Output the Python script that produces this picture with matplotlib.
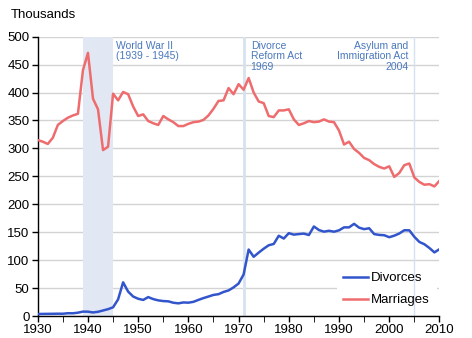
import matplotlib.pyplot as plt
from matplotlib.patches import Rectangle

plt.rcParams["font.family"] = ["Liberation Sans", "DejaVu Sans"]

years = list(range(1930, 2011))

# Marriages, England and Wales (thousands)
marriages = [
    315, 312, 308, 319, 342, 349, 355, 359, 362, 440,
    471, 389, 370, 297, 303, 398, 386, 401, 397, 375,
    358, 361, 349, 345, 342, 358, 352, 347, 340, 340,
    344, 347, 348, 351, 359, 371, 385, 386, 408, 397,
    415, 405, 426, 400, 384, 381, 358, 356, 368, 368,
    370, 352, 342, 345, 349, 347, 348, 352, 348, 347,
    332, 307, 312, 299, 292, 283, 279, 272, 267, 264,
    268, 249, 256, 270, 273, 248, 240, 235, 236, 232,
    242,
]

# Divorces, England and Wales (thousands)
divorces = [
    3.6, 3.8, 3.9, 4.0, 4.2, 4.1, 5.0, 4.9, 6.0, 7.9,
    7.8, 6.4, 7.6, 9.9, 12.3, 15.6, 29.8, 60.3, 43.7, 34.9,
    30.9, 28.8, 33.9, 30.3, 28.0, 26.8, 26.3, 23.8, 22.7, 24.3,
    23.9, 25.4, 28.9, 32.1, 34.9, 37.8, 39.1, 43.1, 45.8, 51.3,
    58.2, 74.4, 119.0, 106.0, 113.5, 120.5, 126.7, 129.0, 143.7, 138.7,
    148.3, 145.7, 146.7, 147.5, 145.0, 160.3, 153.9, 151.0, 152.6, 150.9,
    153.4, 158.7, 158.7, 165.0, 158.2, 155.5, 157.1, 146.7, 145.2, 144.6,
    141.1, 143.8, 147.7, 153.5, 153.4, 141.8, 132.6, 128.5, 121.8, 113.9,
    119.6,
]

war_span = (1939, 1945)
event_lines = [1971, 2005]

blue = "#3355CC"
red = "#EE6C6E"
note_color = "#4A78BC"

fig = plt.figure(figsize=(4.72, 3.38), dpi=100)
ax = fig.add_axes([0.08, 0.065, 0.851, 0.8265])

ax.set_axisbelow(True)
ax.grid(axis="y", color="#D3D3D3", linewidth=1)

# shaded war years and event markers
ax.axvspan(war_span[0], war_span[1], color="#E1E8F4", linewidth=0, zorder=0.6)
ax.axvline(event_lines[0], color="#D6E2F0", linewidth=2, zorder=1)
ax.axvline(event_lines[1], color="#D6E2F0", linewidth=1, zorder=1)

# white patch behind legend, hides gridline
ax.add_patch(Rectangle((0.745, 0.02), 0.25, 0.17, transform=ax.transAxes,
                       facecolor="white", edgecolor="none", zorder=0.8))

ax.plot(years, divorces, color=blue, linewidth=1.8, label="Divorces", zorder=3)
ax.plot(years, marriages, color=red, linewidth=1.8, label="Marriages", zorder=3)

ax.text(1945.6, 493, "World War II\n(1939 - 1945)", color=note_color,
        fontsize=7.5, va="top", ha="left", linespacing=1.1)
ax.text(1972.4, 493, "Divorce\nReform Act\n1969", color=note_color,
        fontsize=7.5, va="top", ha="left", linespacing=1.1)
ax.text(2003.8, 493, "Asylum and\nImmigration Act\n2004", color=note_color,
        fontsize=7.5, va="top", ha="right", multialignment="right",
        linespacing=1.1)

ax.set_xlim(1930, 2010)
ax.set_ylim(0, 500)
ax.set_xticks(range(1930, 2011, 10))
ax.set_xticks(range(1930, 2011, 5), minor=True)
ax.set_yticks(range(0, 501, 50))
ax.tick_params(axis="both", labelsize=9.5, length=4, width=1, colors="black", pad=2)
ax.tick_params(axis="x", which="minor", length=4)

for side in ["top", "right"]:
    ax.spines[side].set_visible(False)
ax.spines["left"].set_linewidth(1)
ax.spines["bottom"].set_linewidth(1)

ax.legend(loc="upper left", bbox_to_anchor=(0.759, 0.157), frameon=False,
          borderaxespad=0, borderpad=0,
          fontsize=9.5, handlelength=1.9, handletextpad=0.25, labelspacing=0.72)

fig.text(0.023, 0.955, "Thousands", fontsize=9.5, va="center", ha="left")

fig.savefig("out.png", dpi=100)
